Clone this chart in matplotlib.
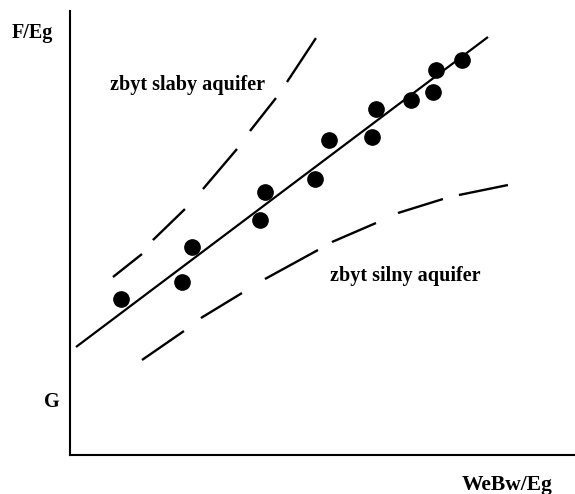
import matplotlib
matplotlib.use("Agg")
import matplotlib.pyplot as plt

plt.rcParams['font.family'] = ['Liberation Serif', 'DejaVu Serif']
plt.rcParams['lines.scale_dashes'] = False

# Data (arbitrary chart units: WeBw/Eg on x, F/Eg on y)
points_x = [51, 112, 122, 190, 195, 245, 259, 302, 306, 341, 363, 366, 392]
points_y = [156, 173, 208, 235, 263, 276, 315, 318, 346, 355, 363, 385, 395]

fit_x = [6, 418]
fit_y = [108, 418]

weak_x = [43, 72, 83, 115, 133, 167, 180, 206, 217, 246]
weak_y = [178, 201, 215, 246, 266, 306, 324, 357, 373, 417]

strong_x = [72, 114, 131, 172, 195, 248, 262, 306, 328, 373, 389, 438]
strong_y = [95, 124, 137, 162, 176, 205, 213, 232, 242, 256, 260, 270]

label_weak = "zbyt slaby aquifer"
label_strong = "zbyt silny aquifer"
ylabel = "F/Eg"
xlabel = "WeBw/Eg"
g_label = "G"

# hand-drawn dash patterns (points)
weak_dashes = (26.6, 12.8, 32.1, 19.4, 37.8, 16.0, 30.2, 14.0, 37.9, 60)
strong_dashes = (36.7, 15.4, 34.6, 19.4, 43.5, 11.6, 34.5, 17.4, 33.9, 11.9, 36.0, 60)

fig = plt.figure(figsize=(5.75, 4.94), dpi=100)
ax = fig.add_axes([70/575, 39/494, 505/575, 444/494])
ax.set_xlim(0, 505)
ax.set_ylim(0, 444)

for s in ['top', 'right']:
    ax.spines[s].set_visible(False)
for s in ['left', 'bottom']:
    ax.spines[s].set_linewidth(1.5)
ax.set_xticks([])
ax.set_yticks([])

ax.plot(fit_x, fit_y, color='black', lw=1.6, solid_capstyle='butt')
ax.plot(weak_x, weak_y, color='black', lw=1.7, linestyle=(0, weak_dashes))
ax.plot(strong_x, strong_y, color='black', lw=1.7, linestyle=(0, strong_dashes))
ax.plot(points_x, points_y, 'o', color='black', markersize=11, zorder=3)

tkw = dict(fontsize=14.5, fontweight='bold', color='black', clip_on=False)
ax.text(40, 365, label_weak, ha='left', va='baseline', **tkw)
ax.text(260, 174, label_strong, ha='left', va='baseline', **tkw)
ax.text(-58, 417, ylabel, ha='left', va='baseline', **tkw)
ax.text(-26, 48, g_label, ha='left', va='baseline', **tkw)
ax.text(392, -35, xlabel, ha='left', va='baseline', fontsize=15.5, fontweight='bold', color='black', clip_on=False)

fig.savefig("out.png", dpi=100, facecolor='white')
